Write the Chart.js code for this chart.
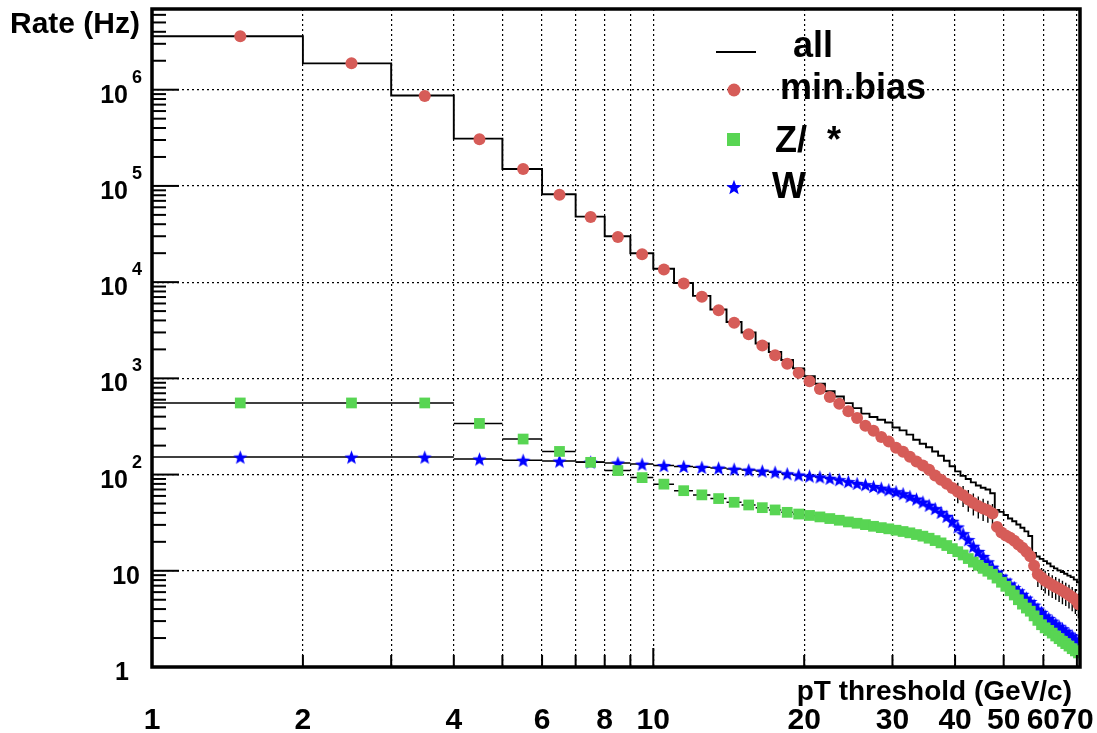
<!DOCTYPE html>
<html>
<head>
<meta charset="utf-8">
<script src="https://cdn.jsdelivr.net/npm/chart.js@4.4.0/dist/chart.umd.min.js"></script>
<style>
  html, body { margin: 0; padding: 0; background: #fff; }
  #wrap { width: 1097px; height: 733px; }
</style>
</head>
<body>
<div id="wrap"><canvas id="rateChart" width="1097" height="733"></canvas></div>
<script>
// Trigger rate vs pT threshold, 1 GeV/c wide bins from 1 to 71 GeV/c

const binEdges = [1, 2, 3, 4, 5, 6, 7, 8, 9, 10, 11, 12, 13, 14, 15, 16, 17, 18, 19, 20,
  21, 22, 23, 24, 25, 26, 27, 28, 29, 30, 31, 32, 33, 34, 35, 36, 37, 38, 39, 40,
  41, 42, 43, 44, 45, 46, 47, 48, 49, 50, 51, 52, 53, 54, 55, 56, 57, 58, 59, 60,
  61, 62, 63, 64, 65, 66, 67, 68, 69, 70, 71];

const rateAll = [3.6e6, 1.88e6, 8.7e5, 3.1e5, 1.5e5, 8.2e4, 4.8e4, 3.0e4, 2.0e4, 1.38e4,
  9.8e3, 7.2e3, 5.2e3, 3.85e3, 3.0e3, 2.3e3, 1.88e3, 1.55e3, 1.27e3, 1.05e3,
  880, 735, 648, 553, 490, 430, 396, 372, 348, 309,
  288, 260, 230, 209, 192, 174, 157, 139, 122, 108,
  97, 90, 83, 77, 73, 70, 64, 43, 41, 38,
  35, 32.7, 30.3, 28, 25.7, 23, 15.3, 14.1, 13.3, 12.6,
  11.9, 11.1, 10.6, 10.1, 9.7, 9.3, 8.9, 8.6, 8.1, 7.6];

const rateMinBias = [3.6e6, 1.88e6, 8.6e5, 3.05e5, 1.5e5, 8.1e4, 4.75e4, 2.95e4, 1.95e4, 1.35e4,
  9.7e3, 7.05e3, 5.1e3, 3.78e3, 2.87e3, 2.2e3, 1.74e3, 1.42e3, 1.14e3, 935,
  775, 640, 545, 455, 387, 322, 286, 246, 220, 190,
  173, 153, 137, 124, 112, 98, 88.5, 80.5, 72.6, 66.4,
  61, 55, 50.5, 47, 44.5, 42.5, 39.5, 28.6, 25, 23.3,
  22, 20.5, 18.8, 17.4, 15.8, 14.2, 11.3, 9.2, 8.5, 7.9,
  7.5, 7.1, 6.8, 6.5, 6.2, 5.9, 5.6, 5.3, 5.0, 4.5];

// min.bias statistical errors (only visible at high pT)
const errMinBias = [0, 0, 0, 0, 0, 0, 0, 0, 0, 0,
  0, 0, 0, 0, 0, 0, 0, 0, 0, 0,
  0, 0, 0, 0, 0, 0, 0, 0, 0, 0,
  0, 0, 0, 0, 0, 0, 0, 0, 0, 16,
  15, 14, 13, 12, 11.5, 11, 10, 3.5, 3.0, 2.8,
  2.6, 2.5, 2.3, 2.1, 1.9, 1.7, 2.8, 2.4, 2.2, 2.1,
  2.0, 1.9, 1.8, 1.75, 1.7, 1.6, 1.55, 1.5, 1.45, 1.3];

const rateZ = [555, 555, 555, 340, 234, 174, 134, 110, 93, 79.5,
  68, 61.5, 56.3, 51.5, 48.3, 45.3, 42.9, 40.5, 38.9, 37.6,
  36.3, 34.9, 33.5, 32.2, 31.2, 30.2, 29, 28.1, 27.3, 26.4,
  25.6, 24.8, 23.8, 22.9, 21.8, 20.6, 19.5, 18.3, 17.0, 15.8,
  14.6, 13.4, 12.3, 11.4, 10.6, 9.9, 9.2, 8.4, 7.6, 6.9,
  6.2, 5.6, 5.0, 4.5, 4.1, 3.8, 3.4, 3.05, 2.75, 2.55,
  2.4, 2.25, 2.1, 1.97, 1.85, 1.75, 1.65, 1.55, 1.47, 1.4];

const rateW = [152, 152, 152, 145, 141, 138, 135, 132, 128.5, 124,
  121.5, 119, 117, 114, 111.5, 109, 106, 102, 99, 96.5,
  94.5, 91.5, 88.5, 84.5, 81, 78.6, 75.2, 72.4, 69.6, 66.4,
  63.3, 59.4, 55.7, 51.9, 48, 44.3, 40.5, 36.8, 32.7, 28.6,
  24.3, 21.1, 18.0, 15.9, 14.1, 12.4, 10.9, 9.7, 8.8, 8.0,
  7.3, 6.7, 6.2, 5.7, 5.2, 4.8, 4.4, 4.0, 3.7, 3.4,
  3.2, 3.0, 2.8, 2.65, 2.5, 2.35, 2.2, 2.1, 1.95, 1.85];

// axis ticks
const xGridValues = [2, 3, 4, 5, 6, 7, 8, 9, 10, 20, 30, 40, 50, 60, 70];
const xLabelValues = [1, 2, 4, 6, 8, 10, 20, 30, 40, 50, 60, 70];
const yDecades = [1, 10, 100, 1e3, 1e4, 1e5, 1e6];
const xMin = 1, xMax = 71, yMin = 1, yMax = 6.9e6;

const legendLabels = ['all', 'min.bias', 'Z/  *', 'W'];

const RED = '#d65c58';
const GREEN = '#58d553';
const BLUE = '#0000ff';
const FONT = '"Liberation Sans", Arial, Helvetica, sans-serif';

// filled five-point star used as marker for W
function makeStar(size, color) {
  const c = document.createElement('canvas');
  c.width = size; c.height = size;
  const g = c.getContext('2d');
  const r = size / 2, ri = r * 0.42;
  g.beginPath();
  for (let i = 0; i < 10; i++) {
    const rad = i % 2 === 0 ? r : ri;
    const ang = -Math.PI / 2 + i * Math.PI / 5;
    g.lineTo(r + rad * Math.cos(ang), r + 0.8 + rad * Math.sin(ang));
  }
  g.closePath();
  g.fillStyle = color;
  g.fill();
  return c;
}
const starMarker = makeStar(15, BLUE);

const centers = binEdges.slice(0, -1).map((lo, i) => (lo + binEdges[i + 1]) / 2);
const markerPoints = arr => arr.map((v, i) => ({ x: centers[i], y: v }));
const binBars = arr => arr.flatMap((v, i) => [
  { x: binEdges[i], y: v }, { x: binEdges[i + 1], y: v }, { x: binEdges[i + 1], y: null }
]);
const errBars = (arr, err) => arr.flatMap((v, i) => err[i] > 0 ? [
  { x: centers[i], y: v - err[i] }, { x: centers[i], y: v + err[i] }, { x: centers[i], y: null }
] : []);
const stepPoints = arr => binEdges.map((e, i) => ({ x: e, y: arr[Math.min(i, arr.length - 1)] }));

function drawLine(ctx, x1, y1, x2, y2) {
  ctx.beginPath(); ctx.moveTo(x1, y1); ctx.lineTo(x2, y2); ctx.stroke();
}

const rootDecor = {
  id: 'rootDecor',
  beforeDraw(chart) {
    const ctx = chart.ctx;
    ctx.save();
    ctx.fillStyle = '#fff';
    ctx.fillRect(0, 0, chart.width, chart.height);
    ctx.restore();
  },
  afterDraw(chart) {
    const { ctx, chartArea: a, scales: { x, y } } = chart;
    ctx.save();
    ctx.strokeStyle = '#000';
    ctx.fillStyle = '#000';

    // tick marks inside the frame
    ctx.lineWidth = 2;
    yDecades.forEach(d => {
      for (let m = 1; m < 10; m++) {
        const v = d * m;
        if (v >= yMax) break;
        const py = y.getPixelForValue(v);
        drawLine(ctx, a.left, py, a.left + (m === 1 ? 27 : 14), py);
      }
    });
    xGridValues.forEach(v => {
      const px = x.getPixelForValue(v);
      drawLine(ctx, px, a.bottom, px, a.bottom - (v === 10 ? 19 : 12));
    });

    // frame
    ctx.lineWidth = 3.5;
    ctx.strokeRect(a.left, a.top, a.right - a.left, a.bottom - a.top);

    // y labels
    ctx.textBaseline = 'alphabetic';
    yDecades.forEach((d, k) => {
      const py = y.getPixelForValue(d);
      ctx.font = 'bold 25px ' + FONT;
      ctx.textAlign = 'right';
      if (k === 0) {
        ctx.fillText('1', 129, py + 13);
      } else if (k === 1) {
        ctx.fillText('10', 140, py + 13);
      } else {
        ctx.font = 'bold 18px ' + FONT;
        const ew = ctx.measureText(String(k)).width;
        ctx.fillText(String(k), 142, py - 7);
        ctx.font = 'bold 25px ' + FONT;
        ctx.fillText('10', 142 - ew - 4, py + 13);
      }
    });

    // x labels
    ctx.font = 'bold 30px ' + FONT;
    ctx.textAlign = 'center';
    xLabelValues.forEach(v => {
      ctx.fillText(String(v), x.getPixelForValue(v), 729);
    });

    // axis titles
    ctx.font = 'bold 28px ' + FONT;
    ctx.textAlign = 'right';
    ctx.fillText('pT threshold (GeV/c)', 1072, 700);
    ctx.font = 'bold 30px ' + FONT;
    ctx.textAlign = 'left';
    ctx.fillText('Rate (Hz)', 10, 33);

    // legend
    ctx.lineWidth = 2;
    drawLine(ctx, 716, 52, 756, 52);
    ctx.fillStyle = RED;
    ctx.beginPath(); ctx.arc(734, 90, 6.5, 0, Math.PI * 2); ctx.fill();
    ctx.fillStyle = GREEN;
    ctx.fillRect(727, 133, 13, 13);
    ctx.drawImage(makeStar(16, BLUE), 726, 179);
    ctx.fillStyle = '#000';
    ctx.font = 'bold 36px ' + FONT;
    ctx.fillText(legendLabels[0], 793, 57);
    ctx.fillText(legendLabels[1], 780, 99);
    ctx.fillText(legendLabels[2], 775, 152);
    ctx.fillText(legendLabels[3], 772, 198);
    ctx.restore();
  }
};

const axisGrid = {
  color: ctx => (ctx.tick && ctx.tick.value > 1 ? '#000' : 'rgba(0,0,0,0)'),
  lineWidth: 1.2,
  drawTicks: false
};

new Chart(document.getElementById('rateChart'), {
  type: 'line',
  data: {
    datasets: [
      { label: 'Z markers', data: markerPoints(rateZ), showLine: false,
        pointStyle: 'rect', pointRadius: 7.6, backgroundColor: GREEN, borderWidth: 0 },
      { label: 'W markers', data: markerPoints(rateW), showLine: false,
        pointStyle: starMarker, pointRadius: 7.5 },
      { label: 'min.bias markers', data: markerPoints(rateMinBias), showLine: false,
        pointStyle: 'circle', pointRadius: 6, backgroundColor: RED, borderWidth: 0 },
      { label: 'min.bias errors', data: errBars(rateMinBias, errMinBias), borderColor: '#000',
        borderWidth: 1.4, pointRadius: 0, spanGaps: false },
      { label: 'Z bins', data: binBars(rateZ), borderColor: '#000', borderWidth: 1.5,
        pointRadius: 0, spanGaps: false },
      { label: 'W bins', data: binBars(rateW), borderColor: '#000', borderWidth: 1.5,
        pointRadius: 0, spanGaps: false },
      { label: 'all', data: stepPoints(rateAll), stepped: 'before', borderColor: '#000',
        borderWidth: 1.9, pointRadius: 0 }
    ]
  },
  options: {
    responsive: false,
    animation: false,
    events: [],
    layout: { padding: { top: 9, right: 17, left: 0, bottom: 0 } },
    plugins: {
      legend: { display: false },
      tooltip: { enabled: false }
    },
    scales: {
      x: {
        type: 'logarithmic',
        min: xMin,
        max: xMax,
        ticks: { display: false },
        grid: axisGrid,
        border: { display: false, dash: [2, 3] },
        afterBuildTicks: scale => { scale.ticks = xGridValues.map(v => ({ value: v })); },
        afterFit: scale => { scale.height = 66; }
      },
      y: {
        type: 'logarithmic',
        min: yMin,
        max: yMax,
        ticks: { display: false },
        grid: axisGrid,
        border: { display: false, dash: [2, 3] },
        afterBuildTicks: scale => { scale.ticks = yDecades.map(v => ({ value: v })); },
        afterFit: scale => { scale.width = 152; }
      }
    }
  },
  plugins: [rootDecor]
});
</script>
</body>
</html>
